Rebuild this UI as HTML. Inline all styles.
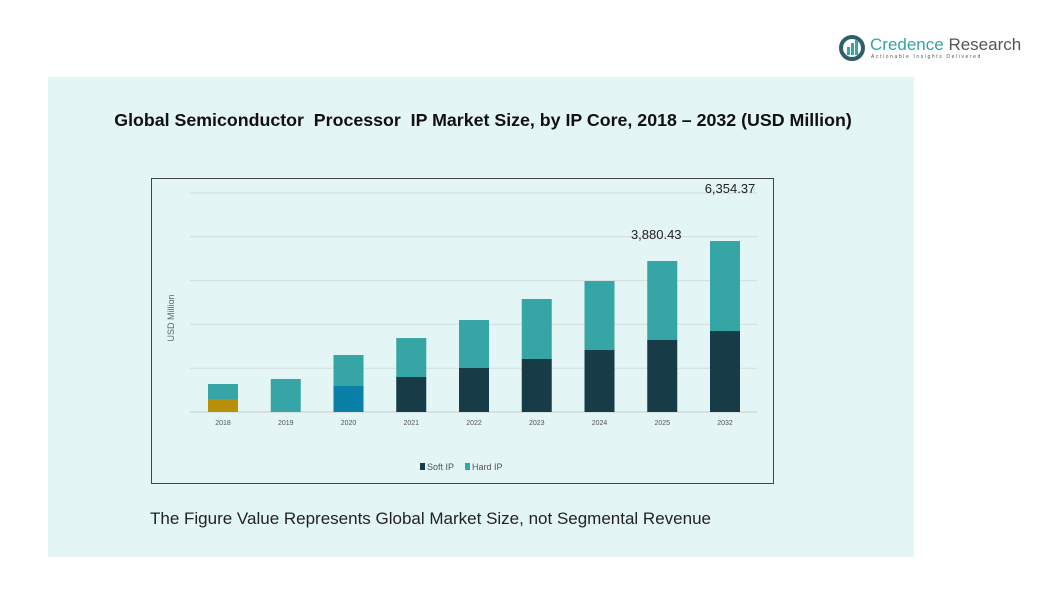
<!DOCTYPE html>
<html><head><meta charset="utf-8"><style>
body{margin:0;background:#fff;width:1056px;height:600px;position:relative;overflow:hidden;font-family:"Liberation Sans",sans-serif}
#panel{position:absolute;left:48px;top:77px;width:866px;height:480px;background:#e3f5f4}
#title{position:absolute;left:30px;top:110px;width:906px;text-align:center;font-weight:bold;font-size:17.8px;color:#111;white-space:nowrap}
#box{position:absolute;left:151px;top:178px;width:621px;height:304px;border:1px solid #444}
#note{position:absolute;left:150px;top:509px;font-size:17px;color:#222}
</style></head><body>
<div id="panel"></div>
<div style="position:absolute;left:838px;top:34px;width:190px;height:30px">
<svg width="28" height="28" style="position:absolute;left:0;top:0"><circle cx="14" cy="14" r="11" fill="none" stroke="#2f5e6a" stroke-width="4"/><rect x="9" y="13" width="3" height="8" fill="#35a5a5"/><rect x="13" y="9" width="3" height="12" fill="#35a5a5"/><rect x="17" y="6" width="3" height="15" fill="#35a5a5"/></svg>
<div style="position:absolute;left:32px;top:1px;font-size:17px;color:#35a5a5;white-space:nowrap">Credence <span style="color:#555">Research</span></div>
<div style="position:absolute;left:33px;top:20px;font-size:5px;letter-spacing:1.6px;color:#555;white-space:nowrap">Actionable Insights Delivered</div>
</div>
<div id="title">Global Semiconductor&nbsp; Processor&nbsp; IP Market Size, by IP Core, 2018 – 2032 (USD Million)</div>
<div id="box"></div>
<svg id="chart" width="1056" height="600" style="position:absolute;left:0;top:0"></svg>
<div id="note">The Figure Value Represents Global Market Size, not Segmental Revenue</div>
<script>
const categories=["2018","2019","2020","2021","2022","2023","2024","2025","2032"];
const softIP=[483,0,966,1300,1635,1970,2304,2676,3010];
const hardIP=[557,1226,1152,1449,1784,2230,2564,2936,3344];
const softColors=["#b8900a","#173c48","#0a7fa8","#173c48","#173c48","#173c48","#173c48","#173c48","#173c48"];
const gridTicks=[0,1628,3256,4884,6512,8140];
const annotations=[{i:7,text:"3,880.43",dy:-22,dx:-6},{i:8,text:"6,354.37",dy:-48,dx:5}];
const svg=document.getElementById('chart');const NS='http://www.w3.org/2000/svg';
const y0=412,yMax=8140,ph=219,x0=223,step=62.75,bw=30;
const y=v=>y0-v/yMax*ph, x=i=>x0+i*step;
function mk(t,a){const e=document.createElementNS(NS,t);for(const k in a)e.setAttribute(k,a[k]);svg.appendChild(e);return e;}
gridTicks.forEach(v=>{const g=mk('line',{x1:190,x2:757,y1:y(v),y2:y(v),stroke:v?'#d4dcdc':'#c8cccc','stroke-width':1});

});
categories.forEach((c,i)=>{
 if(softIP[i]>0){const s=mk('rect',{x:x(i)-bw/2,y:y(softIP[i]),width:bw,height:y0-y(softIP[i]),fill:softColors[i]});
 
 }
 const top=softIP[i]+hardIP[i];
 const h=mk('rect',{x:x(i)-bw/2,y:y(top),width:bw,height:y(softIP[i])-y(top),fill:'#35a5a5'});
 
 
 const t=mk('text',{x:x(i),y:425,'font-size':7,fill:'#555','text-anchor':'middle'});t.textContent=c;
 
 
});
annotations.forEach(a=>{const top=softIP[a.i]+hardIP[a.i];
 const t=mk('text',{x:x(a.i)+a.dx,y:y(top)+a.dy,'font-size':13,fill:'#222','text-anchor':'middle'});t.textContent=a.text;
 
 });
const yt=mk('text',{x:174,y:318,'font-size':9,fill:'#666','text-anchor':'middle',transform:'rotate(-90 174 318)'});yt.textContent='USD Million';


const l1=mk('rect',{x:420,y:463,width:5,height:7,fill:'#173c48'});


const lt1=mk('text',{x:427,y:470,'font-size':9,fill:'#555'});lt1.textContent='Soft IP';


const l2=mk('rect',{x:465,y:463,width:5,height:7,fill:'#35a5a5'});


const lt2=mk('text',{x:472,y:470,'font-size':9,fill:'#555'});lt2.textContent='Hard IP';


</script>
</body></html>
